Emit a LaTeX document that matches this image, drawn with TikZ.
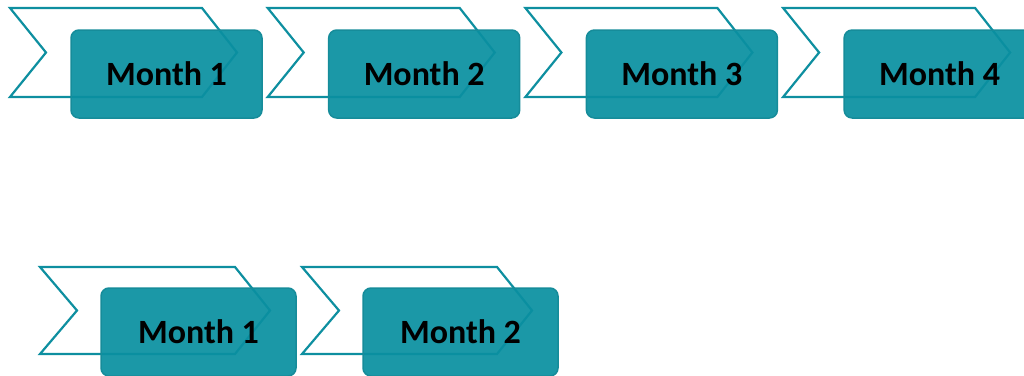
\documentclass[tikz,border=0pt]{standalone}
\usepackage{fontspec}
\setmainfont{Carlito}
\begin{document}
\begin{tikzpicture}[x=1pt,y=-1pt,
  chev/.style={draw=chevline, line width=2.2pt, line join=miter},
  monthbox/.style={draw=boxline, line width=1.5pt, fill=boxfill, fill opacity=0.93,
    rounded corners=8pt, inner sep=0pt},
  monthtext/.style={font=\bfseries\fontsize{34}{40}\selectfont, inner sep=0pt, text=black}]
\definecolor{chevline}{HTML}{0E8FA0}
\definecolor{boxfill}{RGB}{10,144,160}
\definecolor{boxline}{HTML}{168C9A}
\useasboundingbox (0,0) rectangle (1024,375);
\clip (0,0) rectangle (1024,375);
% row 1
\foreach \i/\lab in {0/1,1/2,2/3,3/4}{
  \pgfmathsetmacro{\xo}{10+257.7*\i}
  \draw[chev] (\xo,8) -- (\xo+192,8) -- (\xo+227,52.5) -- (\xo+192,97) -- (\xo,97) -- (\xo+36,52.5) -- cycle;
  \node[monthbox, minimum width=191pt, minimum height=88pt] (r1m\lab) at (\xo+61+95.5,74) {};
  \node[monthtext] (r1t\lab) at (r1m\lab.center) {Month \lab};
}
% row 2
\foreach \i/\lab in {0/1,1/2}{
  \pgfmathsetmacro{\xo}{40+262*\i}
  \draw[chev] (\xo,267) -- (\xo+195,267) -- (\xo+230,310.5) -- (\xo+195,354) -- (\xo,354) -- (\xo+37,310.5) -- cycle;
  \node[monthbox, minimum width=195pt, minimum height=88pt] (r2m\lab) at (\xo+61+97.5,332) {};
  \node[monthtext] (r2t\lab) at (r2m\lab.center) {Month \lab};
}
\end{tikzpicture}
\end{document}
